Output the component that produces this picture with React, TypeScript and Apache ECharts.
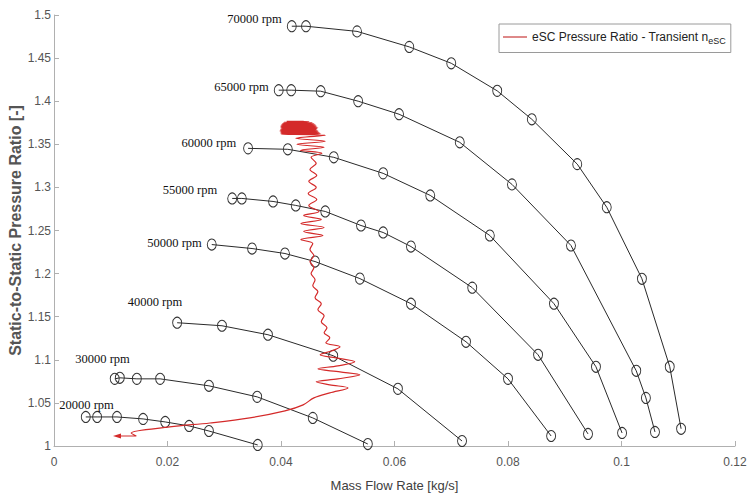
import React, { useEffect, useRef } from 'react';
import * as echarts from 'echarts';

// Speed lines: [mass flow rate kg/s, static-to-static pressure ratio]
const rpm70000 = [
  [0.0419, 1.487], [0.0444, 1.487], [0.0534, 1.481], [0.0626, 1.463], [0.0700, 1.444],
  [0.0781, 1.412], [0.0842, 1.379], [0.0922, 1.327], [0.0974, 1.277], [0.1036, 1.194],
  [0.1085, 1.092], [0.1105, 1.020],
];
const rpm65000 = [
  [0.0396, 1.4128], [0.0418, 1.4128], [0.0470, 1.4116], [0.0536, 1.4000], [0.0608, 1.3849],
  [0.0715, 1.3523], [0.0807, 1.3035], [0.0911, 1.2326], [0.1026, 1.0872], [0.1043, 1.0558],
  [0.1059, 1.0163],
];
const rpm60000 = [
  [0.0342, 1.3453], [0.0412, 1.3442], [0.0493, 1.3349], [0.0580, 1.3163], [0.0663, 1.2907],
  [0.0768, 1.2442], [0.0881, 1.1651], [0.0955, 1.0919], [0.1001, 1.0151],
];
const rpm55000 = [
  [0.0314, 1.2872], [0.0331, 1.2872], [0.0386, 1.2837], [0.0426, 1.2791], [0.0478, 1.2721],
  [0.0541, 1.2558], [0.0580, 1.2477], [0.0629, 1.2314], [0.0737, 1.1837], [0.0853, 1.1058],
  [0.0941, 1.0140],
];
const rpm50000 = [
  [0.0278, 1.2337], [0.0349, 1.2291], [0.0407, 1.2233], [0.0460, 1.2140], [0.0539, 1.1942],
  [0.0629, 1.1651], [0.0726, 1.1209], [0.0800, 1.0779], [0.0876, 1.0116],
];
const rpm40000 = [
  [0.0217, 1.1430], [0.0296, 1.1395], [0.0377, 1.1291], [0.0492, 1.1047], [0.0606, 1.0663],
  [0.0719, 1.0058],
];
const rpm30000 = [
  [0.0107, 1.0779], [0.0116, 1.0791], [0.0146, 1.0779], [0.0187, 1.0779], [0.0273, 1.0698],
  [0.0358, 1.0570], [0.0456, 1.0326], [0.0553, 1.0023],
];
const rpm20000 = [
  [0.0056, 1.0337], [0.0076, 1.0337], [0.0111, 1.0337], [0.0157, 1.0314], [0.0196, 1.0279],
  [0.0238, 1.0233], [0.0273, 1.0174], [0.0359, 1.0012],
];

const speedNames = ['70000 rpm', '65000 rpm', '60000 rpm', '55000 rpm', '50000 rpm', '40000 rpm', '30000 rpm', '20000 rpm'];
const speedCurves = [rpm70000, rpm65000, rpm60000, rpm55000, rpm50000, rpm40000, rpm30000, rpm20000];

// Transient eSC operating trajectory
const transientPath = [
  [0.0111, 1.0116], [0.0145, 1.0116], [0.0136, 1.0151], [0.0204, 1.0221], [0.0275, 1.0267],
  [0.0345, 1.0326], [0.0407, 1.0407], [0.0439, 1.0477], [0.0458, 1.0558],
  [0.0486, 1.0616], [0.0518, 1.0674], [0.0486, 1.0709], [0.0462, 1.0744], [0.0500, 1.0779],
  [0.0539, 1.0826], [0.0504, 1.0860], [0.0465, 1.0895], [0.0500, 1.0930], [0.0530, 1.0977],
  [0.0497, 1.1023], [0.0469, 1.1058], [0.0490, 1.1105], [0.0504, 1.1151], [0.0479, 1.1198],
  [0.0486, 1.1256], [0.0476, 1.1314], [0.0481, 1.1372], [0.0471, 1.1442], [0.0476, 1.1512],
  [0.0465, 1.1581], [0.0471, 1.1651], [0.0460, 1.1721], [0.0465, 1.1791], [0.0456, 1.1860],
  [0.0460, 1.1930], [0.0453, 1.2000], [0.0458, 1.2070],
  [0.0451, 1.2140], [0.0458, 1.2209], [0.0451, 1.2279], [0.0456, 1.2349],
  [0.0435, 1.2395], [0.0474, 1.2442], [0.0440, 1.2488], [0.0476, 1.2535], [0.0435, 1.2581],
  [0.0471, 1.2628], [0.0440, 1.2674], [0.0467, 1.2721],
  [0.0449, 1.2791], [0.0463, 1.2860], [0.0448, 1.2930], [0.0462, 1.3000], [0.0449, 1.3070],
  [0.0463, 1.3140], [0.0451, 1.3209], [0.0462, 1.3279], [0.0453, 1.3349],
  [0.0472, 1.3395], [0.0434, 1.3430], [0.0476, 1.3465], [0.0428, 1.3500], [0.0478, 1.3535],
  [0.0426, 1.3570], [0.0478, 1.3605],
  [0.0400, 1.3616], [0.0470, 1.3622], [0.0399, 1.3628], [0.0468, 1.3634], [0.0399, 1.3640],
  [0.0466, 1.3645], [0.0398, 1.3651], [0.0465, 1.3657], [0.0398, 1.3663], [0.0463, 1.3668],
  [0.0399, 1.3674], [0.0464, 1.3680], [0.0400, 1.3686], [0.0465, 1.3692], [0.0399, 1.3698],
  [0.0463, 1.3703], [0.0399, 1.3709], [0.0462, 1.3715], [0.0400, 1.3721], [0.0460, 1.3727],
  [0.0401, 1.3733], [0.0458, 1.3738], [0.0403, 1.3744], [0.0455, 1.3750], [0.0405, 1.3756],
  [0.0450, 1.3762], [0.0410, 1.3767], [0.0440, 1.3767],
];

const legendName = 'eSC Pressure Ratio - Transient n_eSC';

export default function App() {
  const ref = useRef<HTMLDivElement>(null);

  useEffect(() => {
    if (!ref.current) return;
    const chart = echarts.init(ref.current, null, { renderer: 'svg' });

    const labelOffsets: number[][] = [
      [0, -7], [0, -3], [-2, -5], [-5, -8], [0, -2], [15, -21], [25, -20], [38, -12],
    ];
    const serif = '"Liberation Serif", "Times New Roman", serif';
    const sans = '"Liberation Sans", Arial, Helvetica, sans-serif';
    const red = '#d42a2a';

    const speedSeries = speedCurves.map((curve, i) => ({
      type: 'line',
      name: speedNames[i],
      data: curve.map((p, j) =>
        j === 0
          ? {
              value: p,
              label: {
                show: true,
                formatter: speedNames[i],
                position: 'left',
                distance: 5,
                offset: labelOffsets[i],
                fontFamily: serif,
                fontSize: 12.5,
                color: '#111',
              },
            }
          : p
      ),
      symbol: 'circle',
      symbolSize: [9, 11],
      itemStyle: { color: 'rgba(255,255,255,0)', borderColor: '#333', borderWidth: 1 },
      lineStyle: { color: '#2a2a2a', width: 1 },
      emphasis: { disabled: true },
      silent: true,
      z: 2,
    }));

    const redSeries = {
      type: 'line',
      name: legendName,
      data: transientPath.map((p, j) =>
        j === 0
          ? {
              value: p,
              symbol: 'triangle',
              symbolRotate: 90,
              symbolSize: [5, 8],
              itemStyle: { color: red },
            }
          : p
      ),
      symbol: 'none',
      smooth: 0.35,
      lineStyle: { color: red, width: 1.2 },
      itemStyle: { color: red },
      emphasis: { disabled: true },
      silent: true,
      z: 3,
    };

    const axisGray = '#b0b0b0';

    chart.setOption({
      animation: false,
      backgroundColor: '#fff',
      grid: { left: 54, right: 13, top: 15, bottom: 51, outerBoundsMode: 'none', containLabel: false },
      legend: {
        left: 499,
        top: 24,
        padding: [7, 5, 7, 4],
        borderColor: '#9a9a9a',
        borderWidth: 1,
        borderRadius: 0,
        backgroundColor: '#fff',
        icon: 'rect',
        itemWidth: 24,
        itemHeight: 1.2,
        data: [{ name: legendName, icon: 'rect', itemStyle: { color: '#c83a3a' } }],
        formatter: () => 'eSC Pressure Ratio - Transient n{sub|eSC}',
        textStyle: {
          fontFamily: sans,
          fontSize: 12,
          color: '#222',
          rich: {
            sub: { fontFamily: sans, fontSize: 9, color: '#222', padding: [8, 0, 0, 0] },
          },
        },
      },
      xAxis: {
        type: 'value',
        min: 0,
        max: 0.12,
        interval: 0.02,
        name: 'Mass Flow Rate [kg/s]',
        nameLocation: 'middle',
        nameGap: 33,
        nameMoveOverlap: false,
        nameTextStyle: { fontFamily: sans, fontSize: 13, color: '#404040' },
        axisLine: { show: true, lineStyle: { color: axisGray, width: 1 } },
        axisTick: { show: true, inside: true, length: 5, lineStyle: { color: axisGray } },
        axisLabel: { fontFamily: sans, fontSize: 12, color: '#555', margin: 10 },
        splitLine: { show: false },
      },
      yAxis: {
        type: 'value',
        min: 1,
        max: 1.5,
        interval: 0.05,
        name: 'Static-to-Static Pressure Ratio [-]',
        nameLocation: 'middle',
        nameGap: 31,
        nameMoveOverlap: false,
        nameTextStyle: { fontFamily: sans, fontSize: 16, fontWeight: 'bold', color: '#555' },
        axisLine: { show: true, lineStyle: { color: axisGray, width: 1 } },
        axisTick: { show: true, inside: true, length: 5, lineStyle: { color: axisGray } },
        axisLabel: { fontFamily: sans, fontSize: 12, color: '#555', margin: 3 },
        splitLine: { show: false },
      },
      series: [...speedSeries, redSeries],
    });

    return () => chart.dispose();
  }, []);

  return (
    <div
      ref={ref}
      style={{ position: 'fixed', left: 0, top: 0, width: 748, height: 497, background: '#fff' }}
    />
  );
}
